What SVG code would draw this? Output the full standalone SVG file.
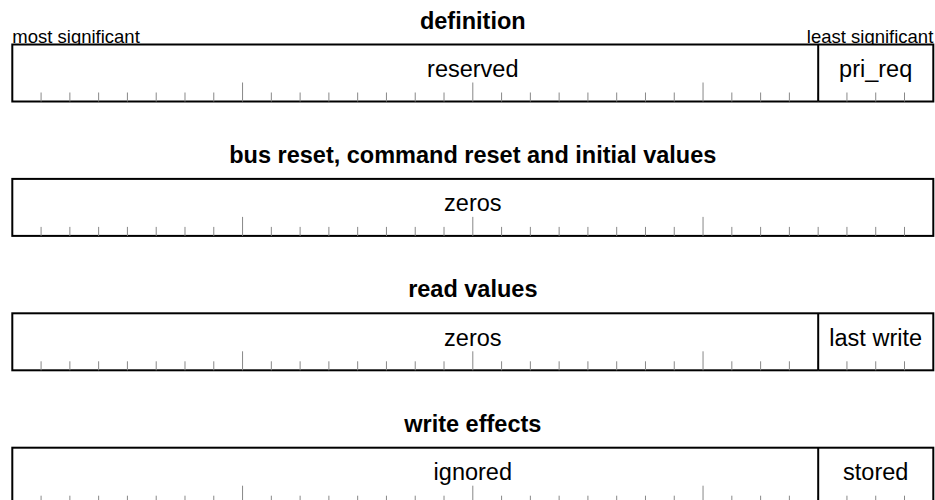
<svg xmlns="http://www.w3.org/2000/svg" xmlns:xlink="http://www.w3.org/1999/xlink" width="935" height="500" viewBox="0 0 935 500">
<style>
  .title { font-family: "Liberation Sans", Arial, sans-serif; font-weight: bold; font-size: 23.5px; fill: #000; text-anchor: middle; }
  .label { font-family: "Liberation Sans", Arial, sans-serif; font-size: 23.5px; fill: #000; text-anchor: middle; }
  .note { font-family: "Liberation Sans", Arial, sans-serif; font-size: 18.5px; fill: #000; }
  .box { fill: #fff; stroke: #000; stroke-width: 2; }
  .div { stroke: #000; stroke-width: 2; }
  .tick { stroke: #888; stroke-width: 1; }
</style>
<defs>
  <g id="ticks">
    <path class="tick" d="M41.08 0v-9M69.86 0v-9M98.64 0v-9M127.42 0v-9M156.21 0v-9M184.99 0v-9M213.77 0v-9M242.55 0v-19M271.33 0v-9M300.11 0v-9M328.89 0v-9M357.67 0v-9M386.45 0v-9M415.23 0v-9M444.02 0v-9M472.8 0v-19M501.58 0v-9M530.36 0v-9M559.14 0v-9M587.92 0v-9M616.7 0v-9M645.48 0v-9M674.26 0v-9M703.04 0v-19M731.83 0v-9M760.61 0v-9M789.39 0v-9M818.17 0v-9M846.95 0v-9M875.73 0v-9M904.51 0v-9"/>
  </g>
</defs>

<g id="definition">
  <text class="title" x="472.8" y="28.5">definition</text>
  <text class="note" x="12.3" y="42.5">most significant</text>
  <text class="note" x="933.3" y="42.5" text-anchor="end">least significant</text>
  <rect class="box" x="12.3" y="44.5" width="921" height="57"/>
  <use xlink:href="#ticks" href="#ticks" transform="translate(0,101.5)"/>
  <line class="div" x1="818.2" y1="44.5" x2="818.2" y2="101.5"/>
  <text class="label" x="472.8" y="76.7">reserved</text>
  <text class="label" x="875.7" y="76.7">pri_req</text>
</g>

<g id="reset-values">
  <text class="title" x="472.8" y="162.9">bus reset, command reset and initial values</text>
  <rect class="box" x="12.3" y="178.9" width="921" height="57"/>
  <use xlink:href="#ticks" href="#ticks" transform="translate(0,235.9)"/>
  <text class="label" x="472.8" y="211.1">zeros</text>
</g>

<g id="read-values">
  <text class="title" x="472.8" y="297.3">read values</text>
  <rect class="box" x="12.3" y="313.3" width="921" height="57"/>
  <use xlink:href="#ticks" href="#ticks" transform="translate(0,370.3)"/>
  <line class="div" x1="818.2" y1="313.3" x2="818.2" y2="370.3"/>
  <text class="label" x="472.8" y="345.5">zeros</text>
  <text class="label" x="875.7" y="345.5">last write</text>
</g>

<g id="write-effects">
  <text class="title" x="472.8" y="431.7">write effects</text>
  <rect class="box" x="12.3" y="447.7" width="921" height="57"/>
  <use xlink:href="#ticks" href="#ticks" transform="translate(0,504.7)"/>
  <line class="div" x1="818.2" y1="447.7" x2="818.2" y2="504.7"/>
  <text class="label" x="472.8" y="479.9">ignored</text>
  <text class="label" x="875.7" y="479.9">stored</text>
</g>
</svg>
